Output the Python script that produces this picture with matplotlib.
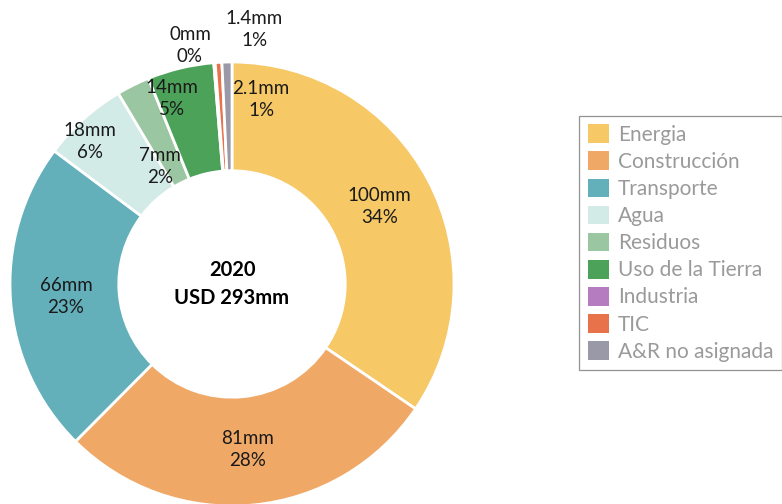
import matplotlib
matplotlib.use("Agg")
import matplotlib.pyplot as plt
from matplotlib.patches import Patch
import numpy as np

categories = ["Energia", "Construcción", "Transporte", "Agua", "Residuos",
              "Uso de la Tierra", "Industria", "TIC", "A&R no asignada"]
values = [100, 81, 66, 18, 7, 14, 0.3, 1.4, 2.1]
value_labels = ["100mm", "81mm", "66mm", "18mm", "7mm", "14mm", "0mm", "1.4mm", "2.1mm"]
pct_labels = ["34%", "28%", "23%", "6%", "2%", "5%", "0%", "1%", "1%"]
center_title = "2020"
center_total = "USD 293mm"
colors = ["#F6C866", "#EFA866", "#63B0BA", "#D2EBE7", "#9BC6A2",
          "#4DA25A", "#B57CC0", "#E8724A", "#9A99A8"]

plt.rcParams['font.family'] = ['Lato', 'DejaVu Sans']

W, H = 782, 504
fig = plt.figure(figsize=(W / 100, H / 100), dpi=100)
cx, cy, R = 232, 284, 222
ax = fig.add_axes([0, 0, 1, 1])

wedges, _ = ax.pie(values, colors=colors, startangle=90, counterclock=False,
                   radius=1.0, wedgeprops=dict(width=0.49, edgecolor='white', linewidth=2))
ax.set_xlim(-cx / R, (W - cx) / R)
ax.set_ylim(-(H - cy) / R, cy / R)
ax.set_aspect('equal', adjustable='datalim')
ax.axis('off')

# label placement (radius, angle) overrides for crowded slices
overrides = {3: (0.905, 135), 4: (0.62, 121.6), 5: (0.88, 108),
             6: (1.09, 100), 7: (1.15, 85), 8: (0.84, 81)}
for i, w in enumerate(wedges):
    mid = (w.theta1 + w.theta2) / 2
    r = 0.75
    if i in overrides:
        r, mid = overrides[i]
    x = r * np.cos(np.radians(mid))
    y = r * np.sin(np.radians(mid))
    ax.text(x, y, value_labels[i] + "\n" + pct_labels[i], ha='center', va='center',
            fontsize=13.5, color='#1a1a1a', linespacing=1.35)

ax.text(0, 0, center_title + "\n" + center_total, ha='center', va='center',
        fontsize=14.5, fontweight='bold', color='black', linespacing=1.5)

handles = [Patch(facecolor=c, edgecolor='none') for c in colors]
leg = fig.legend(handles, categories, loc='upper left', bbox_to_anchor=(0.741, 0.770),
                 frameon=True, fancybox=False, fontsize=15, labelcolor='#9a9a9a',
                 handlelength=1.0, handleheight=1.0, handletextpad=0.45,
                 labelspacing=0.32, borderpad=0.4, borderaxespad=0)
leg.get_frame().set_edgecolor('#777777')
leg.get_frame().set_linewidth(0.9)

fig.savefig("out.png", dpi=100)
